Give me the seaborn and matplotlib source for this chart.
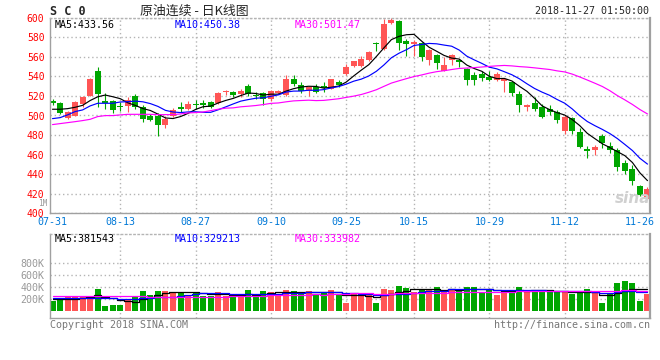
import numpy as np
import pandas as pd
import seaborn as sns
import matplotlib.pyplot as plt

# SC0 daily candles, 2018-07-31 .. 2018-11-27
holidays = ["2018-09-24", "2018-10-01", "2018-10-02", "2018-10-03", "2018-10-04", "2018-10-05"]
days = pd.bdate_range("2018-07-31", "2018-11-27")
days = days[~days.isin(pd.to_datetime(holidays))]
dates = days.strftime("%m-%d").tolist()

opens = [515, 513, 497, 499.5, 512, 520, 545.5, 515, 515, 510,
         510, 520, 508.5, 499.5, 500, 490.5, 499, 509, 506.5, 512,
         512.5, 514, 512.5, 524, 524, 521.5, 530.5, 521, 522.5, 516.5,
         523, 520.5, 537.5, 531.5, 525, 529.5, 530.5, 527.5, 534, 542,
         550.5, 551, 556.5, 574.5, 568, 595, 596.5, 576, 573, 574.5,
         556.5, 561.5, 545.5, 556.5, 556.5, 547.5, 541, 542.5, 539, 536,
         535, 534, 521.5, 508.5, 513, 508.5, 507, 503.5, 484, 497,
         483.5, 466, 465, 479.5, 468.5, 465, 451, 445, 427.5, 415]
highs = [516.5, 514, 505, 515, 520, 538, 549.5, 522.5, 516, 514,
         518.5, 522, 511, 502, 503, 499, 507.5, 514, 514.5, 516,
         516, 515, 524, 526.5, 525, 527, 532.5, 524.5, 524, 526.5,
         526, 541, 541, 534, 530.5, 532, 534, 537.5, 536.5, 553,
         556, 560.5, 566, 575, 599, 600, 598, 578.5, 577, 575.5,
         567.5, 562.5, 560, 562.5, 557.5, 548.5, 544.5, 545.5, 545.5, 544.5,
         537.5, 535, 525, 512, 519, 512, 510.5, 505.5, 501, 498.5,
         487, 468.5, 470, 481.5, 472.5, 467, 454, 449, 428.5, 426.5]
lows = [511, 502, 496, 499, 509, 519.5, 509, 507, 503, 505,
        504, 507, 493.5, 494.5, 479, 487, 498, 503.5, 505.5, 507,
        508, 507.5, 511.5, 521, 519, 519, 519.5, 517, 511, 515,
        521.5, 519.5, 530, 523.5, 520, 522.5, 524.5, 527, 529, 541,
        550, 550, 556, 566, 567, 594, 567, 560.5, 561, 555.5,
        552, 547.5, 545, 552, 550, 531, 531, 535.5, 535, 535,
        524, 520, 503.5, 505, 505, 497, 501, 492, 481, 481,
        467, 456.5, 460, 467, 461.5, 443, 440, 428.5, 418, 414.5]
closes = [512.5, 503, 503.5, 514, 519, 537, 522, 512.5, 505.5, 509,
          516, 508.5, 496.5, 495.5, 490.5, 496.5, 505.5, 506.5, 512, 510.5,
          510.5, 508.5, 522.5, 525, 521, 525, 521.5, 520, 517, 525.5,
          525, 537, 532.5, 525.5, 529.5, 524, 528.5, 537, 531.5, 550,
          555.5, 558, 565, 573, 594, 598, 574.5, 573.5, 575, 559.5,
          566.5, 554, 552, 561.5, 554.5, 536, 536, 538, 536, 542.5,
          537, 523, 510.5, 510.5, 507, 498.5, 503.5, 495, 498.5, 484,
          467.5, 464, 468, 472, 464.5, 447, 443, 433, 419, 425]
volumes_k = [174, 213, 241, 241, 252, 241, 370, 90, 106, 106,
             196, 241, 336, 263, 336, 336, 325, 314, 269, 319,
             252, 252, 319, 252, 241, 241, 353, 286, 336, 319,
             286, 353, 336, 286, 336, 286, 319, 353, 269, 134,
             286, 302, 286, 129, 370, 353, 420, 386, 319, 370,
             353, 403, 336, 353, 353, 403, 403, 319, 353, 269,
             353, 353, 403, 319, 353, 336, 325, 319, 336, 280,
             297, 370, 297, 140, 280, 465, 504, 465, 168, 280]

# moving averages before enough history exists in the window
ma5_head = [506.4, 506.4, 507.0, 508.4]
ma10_head = [496.8, 497.8, 500.6, 504.0, 505.7, 509.8, 512.5, 512.5, 512.5]
ma30_head = [490.7, 491.7, 492.7, 493.7, 494.8, 496.1, 498.9, 499.9, 499.9, 500.6,
             501.2, 501.2, 501.2, 501.2, 500.9, 500.9, 500.9, 501.6, 502.6, 503.0,
             503.6, 505.0, 506.4, 507.5, 507.8, 508.9, 509.5, 510.2, 511.2]
vma5_head = [196, 196, 196, 196]
vma10_head = [224, 224, 224, 224, 224, 224, 215, 215, 215]
vma30_head = [250, 250, 250, 250, 250, 250, 245, 245, 245, 245,
              245, 245, 245, 240, 240, 240, 240, 240, 240, 240,
              241, 241, 241, 241, 246, 246, 246, 246, 246]

tick_labels = ["07-31", "08-13", "08-27", "09-10", "09-25", "10-15", "10-29", "11-12", "11-26"]
price_legend = ["MA5:433.56", "MA10:450.38", "MA30:501.47"]
vol_legend = ["MA5:381543", "MA10:329213", "MA30:333982"]

df = pd.DataFrame({"date": dates, "open": opens, "high": highs, "low": lows,
                   "close": closes, "volume": np.array(volumes_k) * 1000})
df["x"] = np.arange(len(df))
df["dir"] = np.where(df["close"] >= df["open"], "up", "down")


def moving(series, n, head):
    ma = series.rolling(n).mean()
    ma.iloc[:len(head)] = head
    return ma


df["MA5"] = moving(df["close"], 5, ma5_head)
df["MA10"] = moving(df["close"], 10, ma10_head)
df["MA30"] = moving(df["close"], 30, ma30_head)
df["VMA5"] = moving(df["volume"], 5, np.array(vma5_head) * 1000)
df["VMA10"] = moving(df["volume"], 10, np.array(vma10_head) * 1000)
df["VMA30"] = moving(df["volume"], 30, np.array(vma30_head) * 1000)

RED, GREEN = "#ff5555", "#00a600"
candle_colors = {"up": RED, "down": GREEN}
line_colors = ["#000000", "#0000ff", "#ff00ff"]
GRID = "#b4b4b4"
FRAME = "#a0a0a0"

sns.set_theme(style="white")
plt.rcParams["font.family"] = ["DejaVu Sans Mono", "Noto Sans CJK SC"]
FS = 7.2

W, H = 660, 360
fig = plt.figure(figsize=(W / 100, H / 100), dpi=100)


def fx(px):
    return px / W


def fy(py):
    return 1 - py / H


ax = fig.add_axes([fx(50), fy(213.3), 600 / W, 195.6 / H])
axv = fig.add_axes([fx(50), fy(318), 600 / W, 84 / H])

# candles
col = df["dir"].map(candle_colors)
body_low = df[["open", "close"]].min(axis=1)
body_h = (df["close"] - df["open"]).abs().clip(lower=0.9)
ax.vlines(df["x"], df["low"], df["high"], colors=col, linewidth=0.8, zorder=2)
ax.bar(df["x"], body_h, bottom=body_low, width=0.8, color=col, linewidth=0, zorder=2)

ma_long = df.melt(id_vars="x", value_vars=["MA5", "MA10", "MA30"], var_name="line", value_name="value")
sns.lineplot(data=ma_long, x="x", y="value", hue="line",
             palette=dict(zip(["MA5", "MA10", "MA30"], line_colors)),
             linewidth=0.85, legend=False, ax=ax, zorder=3)

# volume
sns.barplot(data=df, x="x", y="volume", hue="dir", palette=candle_colors, native_scale=True,
            width=0.8, dodge=False, saturation=1, errorbar=None, linewidth=0, legend=False,
            ax=axv, zorder=2)
vma_long = df.melt(id_vars="x", value_vars=["VMA5", "VMA10", "VMA30"], var_name="line", value_name="value")
sns.lineplot(data=vma_long, x="x", y="value", hue="line",
             palette=dict(zip(["VMA5", "VMA10", "VMA30"], line_colors)),
             linewidth=0.9, legend=False, ax=axv, zorder=3, drawstyle="steps-mid")

tick_idx = [dates.index(d) for d in tick_labels]
pad = 2.5 / 7.53
for a in (ax, axv):
    a.set_xlim(-pad, len(df) - 1 + pad)
    a.set_xticks(tick_idx)
    a.set_xlabel("")
    a.set_ylabel("")
    a.grid(True, linestyle=(0, (1, 2)), color=GRID, linewidth=1)
    a.set_axisbelow(True)
    for name, sp in a.spines.items():
        sp.set_color(FRAME)
        sp.set_linewidth(1)
    a.spines["top"].set_linestyle((0, (1, 2)))
    a.spines["top"].set_color(GRID)
    a.spines["right"].set_linewidth(1.6)
    a.tick_params(length=0, labelsize=FS)
    for gl, lab in zip(a.get_xgridlines(), tick_labels):
        if lab in (tick_labels[0], tick_labels[-1]):
            gl.set_visible(False)

ax.set_ylim(400, 600)
ax.set_yticks(range(400, 601, 20))
ax.set_xticklabels(tick_labels)
ax.tick_params(axis="y", labelcolor="#ff0000", labelsize=7, pad=4)
ax.tick_params(axis="x", labelcolor="#0078d7", pad=2.5)

axv.set_ylim(-118000, 1294000)
axv.set_yticks([200000, 400000, 600000, 800000])
axv.set_yticklabels(["200K", "400K", "600K", "800K"])
axv.set_xticklabels([])
axv.tick_params(axis="y", labelcolor="#999999", pad=4)

# texts
fig.text(fx(50), fy(11.5), "S C 0", fontsize=8.5, fontweight="bold", va="center", ha="left")
fig.text(fx(140), fy(11.5), "原油连续 - 日K线图", fontsize=9.3, va="center", ha="left",
         family=["Noto Sans CJK SC", "DejaVu Sans"])
fig.text(fx(649), fy(11.5), "2018-11-27 01:50:00", fontsize=FS, va="center", ha="right")
for txt, c, x0 in zip(price_legend, line_colors, [54.5, 174.5, 295]):
    fig.text(fx(x0), fy(24.5), txt, fontsize=FS, color=c, va="center", ha="left")
for txt, c, x0 in zip(vol_legend, line_colors, [54.5, 174.5, 295]):
    fig.text(fx(x0), fy(239), txt, fontsize=FS, color=c, va="center", ha="left")
fig.text(fx(47), fy(203.3), "1M", fontsize=5.6, color="#999999", va="center", ha="right")
fig.text(fx(633), fy(198), "sina", fontsize=11, fontweight="bold", fontstyle="italic",
         color="#d0d0d0", va="center", ha="center", family="DejaVu Sans", zorder=1)
fig.text(fx(50), fy(324.5), "Copyright 2018 SINA.COM", fontsize=FS, color="#777777", va="center", ha="left")
fig.text(fx(650), fy(324.5), "http://finance.sina.com.cn", fontsize=FS, color="#777777", va="center", ha="right")

fig.savefig("out.png", dpi=100)
